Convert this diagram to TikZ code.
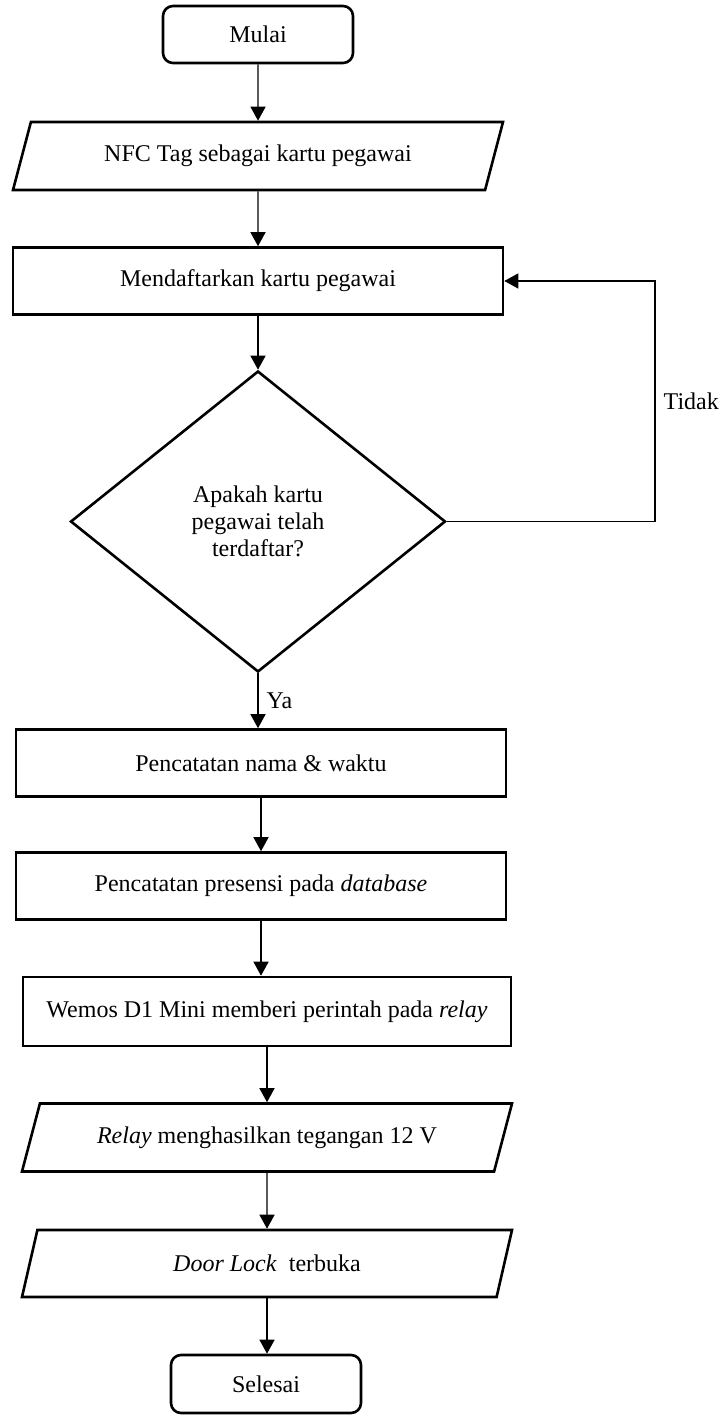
\documentclass[tikz,border=0pt]{standalone}
\usepackage{fontspec}
\setmainfont{Liberation Serif}
\usetikzlibrary{arrows.meta,shapes.geometric}
\tikzset{
  terminal/.style={
    draw=black,
    rounded corners=5pt,
    line width=1.3pt,
    fill=white,
    minimum width=95pt,
    minimum height=28.5pt,
    align=center
  },
  process/.style={draw=black, line width=1.3pt, minimum width=245pt, minimum height=33.5pt, align=center},
  io/.style={
    trapezium,
    trapezium left angle=63,
    trapezium right angle=117,
    trapezium stretches body,
    draw=black,
    line width=1.3pt,
    minimum width=245pt,
    minimum height=34pt,
    align=center
  },
  decision/.style={diamond, draw=black, line width=1.3pt, minimum width=187.5pt, minimum height=150.5pt, inner sep=0pt, align=center},
  flow/.style={-{Triangle[length=7pt,width=7.5pt]}, line width=0.7pt},
  answer/.style={inner sep=4pt}
}

\begin{document}
\begin{tikzpicture}[x=0.5pt, y=-0.5pt, font=\fontsize{12pt}{13.5pt}\selectfont]
  \useasboundingbox (0,0) rectangle (724,1417);

  % -------------------------------------------------------------------
  % registration
  % -------------------------------------------------------------------
  \node[terminal] (mulai) at (258,34.5) {Mulai};
  \node[io] (nfc) at (258,156) {NFC Tag sebagai kartu pegawai};
  \node[process] (daftar) at (258,281) {Mendaftarkan kartu pegawai};
  \node[decision] (cek) at (258,521.5) {Apakah kartu\\pegawai telah\\terdaftar?};
  \coordinate (balik) at (655,521.5);

  \draw[flow] (mulai) -- (nfc);
  \draw[flow] (nfc) -- (daftar);
  \draw[flow] (daftar) -- (cek);
  \draw[flow] (cek.east) -- (balik) -- node[answer, right] {Tidak} (balik |- daftar.east) -- (daftar.east);

  % -------------------------------------------------------------------
  % presence + door
  % -------------------------------------------------------------------
  \node[process] (nama) at (261,763) {Pencatatan nama \& waktu};
  \node[process] (presensi) at (261,886) {Pencatatan presensi pada \textit{database}};
  \node[process, minimum width=244pt, minimum height=34.5pt] (wemos) at (267,1011.5) {Wemos D1 Mini memberi perintah pada \textit{relay}};
  \node[io] (relay) at (267,1137.5) {\textit{Relay} menghasilkan tegangan 12 V};
  \node[io, minimum height=33.5pt] (door) at (267,1263.5) {\textit{Door Lock}\ \ terbuka};
  \node[terminal, minimum height=29pt] (selesai) at (266,1384) {Selesai};

  \draw[flow] (cek.south) -- node[answer, right] {Ya} (cek.south |- nama.north);
  \draw[flow] (nama) -- (presensi);
  \draw[flow] (presensi.south) -- (presensi.south |- wemos.north);
  \draw[flow] (wemos) -- (relay);
  \draw[flow] (relay) -- (door);
  \draw[flow] (door.south) -- (door.south |- selesai.north);

\end{tikzpicture}
\end{document}
